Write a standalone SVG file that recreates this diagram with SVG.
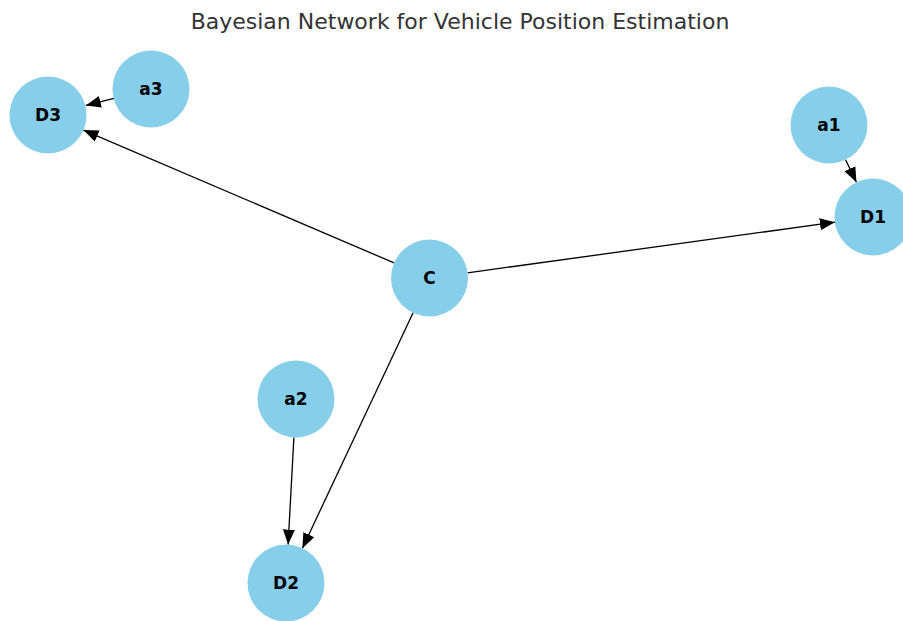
<svg xmlns="http://www.w3.org/2000/svg" width="903" height="621" viewBox="0 0 903 621">
  <style>
    .node circle { fill: #87CEEB; }
    .node text { font-family: "DejaVu Sans", sans-serif; font-size: 17px; font-weight: bold; fill: #000; text-anchor: middle; dominant-baseline: central; }
    .edges line { stroke: #000; stroke-width: 1.3; marker-end: url(#head); }
    .title { font-family: "DejaVu Sans", sans-serif; font-size: 22px; fill: #333; text-anchor: middle; }
  </style>
  <defs>
    <marker id="head" markerUnits="userSpaceOnUse" markerWidth="16" markerHeight="14" viewBox="0 0 16 14" refX="15" refY="7" orient="auto">
      <path d="M0,1 L15,7 L0,13 Z" fill="#000"/>
    </marker>
  </defs>
  <rect width="903" height="621" fill="#fff"/>
  <text class="title" x="460" y="29">Bayesian Network for Vehicle Position Estimation</text>

  <g class="edges">
    <line x1="114.1" y1="98.3" x2="85.8" y2="105.4"/>
    <line x1="394.1" y1="262.9" x2="83.4" y2="130.1"/>
    <line x1="467.6" y1="272.8" x2="834.9" y2="222.2"/>
    <line x1="845.6" y1="159.7" x2="856.4" y2="182.3"/>
    <line x1="413.1" y1="312.8" x2="302.4" y2="548.2"/>
    <line x1="293.9" y1="437.4" x2="288.1" y2="544.6"/>
  </g>

  <g id="D3" class="node"><circle cx="48" cy="115" r="38.5"/><text x="48" y="115">D3</text></g>
  <g id="a3" class="node"><circle cx="151" cy="89" r="38.5"/><text x="151" y="89">a3</text></g>
  <g id="a1" class="node"><circle cx="829" cy="125" r="38.5"/><text x="829" y="125">a1</text></g>
  <g id="D1" class="node"><circle cx="873" cy="217" r="38.5"/><text x="873" y="217">D1</text></g>
  <g id="C" class="node"><circle cx="429.5" cy="278" r="38.5"/><text x="429.5" y="278">C</text></g>
  <g id="a2" class="node"><circle cx="296" cy="399" r="38.5"/><text x="296" y="399">a2</text></g>
  <g id="D2" class="node"><circle cx="286" cy="583" r="38.5"/><text x="286" y="583">D2</text></g>
</svg>
